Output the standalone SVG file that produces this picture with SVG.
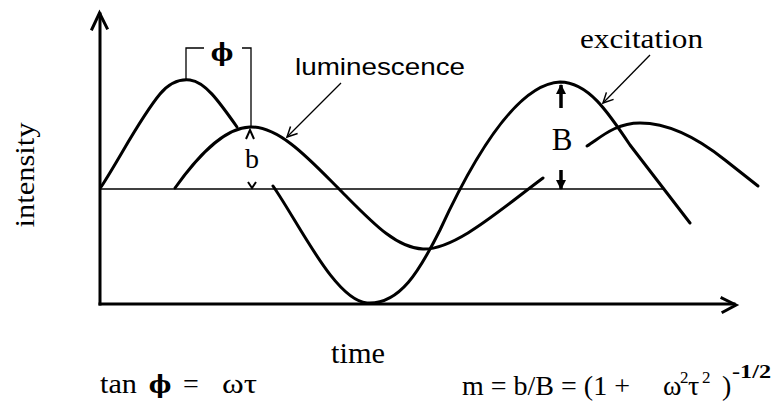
<svg xmlns="http://www.w3.org/2000/svg" width="774" height="411" viewBox="0 0 774 411">
<style>
.curve{fill:none;stroke:#000;stroke-width:3;stroke-linejoin:round;stroke-linecap:round}
.axis{fill:none;stroke:#000;stroke-width:3;stroke-linecap:square}
.thin{fill:none;stroke:#000;stroke-width:1.3}
</style>
<defs>
<marker id="open" viewBox="0 0 12 12" refX="11" refY="6" markerWidth="12" markerHeight="12" markerUnits="userSpaceOnUse" orient="auto">
<path d="M1,1 L11,6 L1,11" fill="none" stroke="#000" stroke-width="1.5"/>
</marker>
<marker id="solid" viewBox="0 0 10 10" refX="9" refY="5" markerWidth="10" markerHeight="10" markerUnits="userSpaceOnUse" orient="auto">
<path d="M0,0 L10,5 L0,10 Z" fill="#000"/>
</marker>
</defs>
<g id="axes">
<path class="axis" d="M100,304 L100,14"/>
<path class="axis" d="M92,29 L99.5,13 L107,28"/>
<path class="axis" d="M100,304 L734,304"/>
<path class="axis" d="M722,298 L736,305 L723,312"/>
<path class="thin" d="M100,189 L665,189"/>
</g>
<g id="excitation">
<path class="curve" d="M101,187 C120,158 140,118 160,94 C171,81 181,79 190,80 C205,82 218,100 237,127"/>
<path class="curve" d="M273,186 C300,225 335,300 367,303 C400,305 420,270 440,230 C470,165 515,84 560,82 C588,82 608,112 630,145 L690,223"/>
</g>
<g id="luminescence">
<path class="curve" d="M175,188 C195,160 222,128 250,127 C280,126 312,162 340,190 C370,220 395,248 423,249 C455,250 500,210 543,178"/>
<path class="curve" d="M587,146 C600,138 615,123 640,123 C670,123 700,140 725,160 L758,186"/>
</g>
<g id="phase">
<path class="thin" d="M186,80 L186,48 L204,48"/>
<path class="thin" d="M242,48 L251,48 L251,127"/>
<text x="222" y="61" font-family="'DejaVu Serif', serif" font-weight="bold" font-size="24" text-anchor="middle">ϕ</text>
</g>
<g id="amplitude-b">
<path d="M246,139 L250,130 L254,139" fill="none" stroke="#000" stroke-width="2"/>
<path d="M248,182 L252,188 L256,182" fill="none" stroke="#000" stroke-width="2"/>
<text x="252" y="168" font-family="'Liberation Serif', 'Times New Roman', serif" font-size="28" text-anchor="middle">b</text>
</g>
<g id="amplitude-B">
<path d="M561,108 L561,85" stroke="#000" stroke-width="3.5" marker-end="url(#solid)"/>
<path d="M561,170 L561,189" stroke="#000" stroke-width="3.5" marker-end="url(#solid)"/>
<text x="562" y="150" font-family="'Liberation Serif', 'Times New Roman', serif" font-size="31" text-anchor="middle">B</text>
</g>
<g id="connectors">
<path class="thin" d="M341,83 L287,137" marker-end="url(#open)"/>
<path class="thin" d="M650,55 L603,103" marker-end="url(#open)"/>
</g>
<g id="labels">
<text x="295" y="75" font-family="'Liberation Sans', Arial, sans-serif" font-size="24" textLength="170" lengthAdjust="spacingAndGlyphs">luminescence</text>
<text x="580" y="48" font-family="'Liberation Serif', 'Times New Roman', serif" font-size="28" textLength="123" lengthAdjust="spacingAndGlyphs">excitation</text>
<text transform="translate(34,175) rotate(-90)" font-family="'Liberation Serif', 'Times New Roman', serif" font-size="28" text-anchor="middle" textLength="105" lengthAdjust="spacingAndGlyphs">intensity</text>
<text x="331" y="363" font-family="'Liberation Serif', 'Times New Roman', serif" font-size="29" textLength="54" lengthAdjust="spacingAndGlyphs">time</text>
</g>
<g id="formula-left" font-family="'Liberation Serif', 'Times New Roman', serif" font-size="28">
<text x="100" y="393" textLength="37" lengthAdjust="spacingAndGlyphs">tan</text>
<text x="160" y="393" font-family="'DejaVu Serif', serif" font-weight="bold" font-size="24" text-anchor="middle">ϕ</text>
<text x="183" y="393">=</text>
<text x="222" y="393" textLength="35" lengthAdjust="spacingAndGlyphs">ωτ</text>
</g>
<g id="formula-right" font-family="'Liberation Serif', 'Times New Roman', serif" font-size="28">
<text x="462" y="395">m = b/B = (1 +</text>
<text x="663" y="395">ω</text>
<text x="680" y="383" font-size="17">2</text>
<text x="688" y="395">τ</text>
<text x="702" y="383" font-size="17">2</text>
<text x="722" y="395">)</text>
<text x="732" y="378" font-size="19" font-weight="bold" textLength="39" lengthAdjust="spacingAndGlyphs">-1/2</text>
</g>
</svg>
